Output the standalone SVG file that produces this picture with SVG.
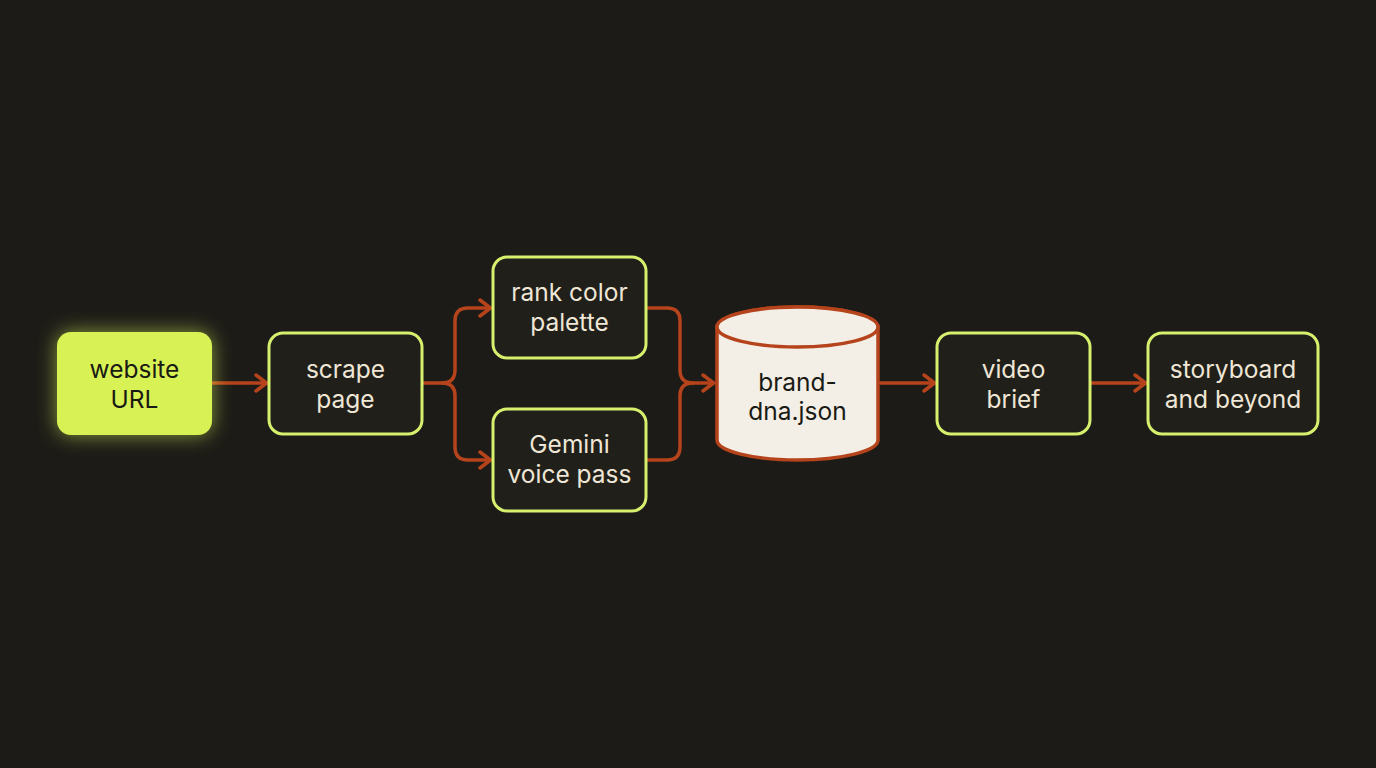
<svg xmlns="http://www.w3.org/2000/svg" width="1376" height="768" viewBox="0 0 1376 768">
<defs>
<style>
.box{fill:#201f1a;stroke:#d6f06e;stroke-width:3}
.t{font-family:Inter,"Liberation Sans",sans-serif;font-size:24.5px;fill:#efe6d6;text-anchor:middle}
.td{fill:#1a1a14}
.c{fill:none;stroke:#b5431b;stroke-width:3.5;stroke-linecap:round;stroke-linejoin:round}
</style>
<marker id="ah" viewBox="0 0 14 20" refX="13" refY="10" markerWidth="14" markerHeight="20" markerUnits="userSpaceOnUse" orient="auto">
<path d="M2,2 L12.5,10 L2,18" fill="none" stroke="#b5431b" stroke-width="3.5" stroke-linecap="round" stroke-linejoin="round"/>
</marker>
<filter id="glow" x="-40%" y="-40%" width="180%" height="180%">
<feGaussianBlur stdDeviation="10"/>
</filter>
</defs>
<rect width="1376" height="768" fill="#1c1b17"/>
<g id="connectors">
<path class="c" d="M213,383 L267,383" marker-end="url(#ah)"/>
<path class="c" d="M423,383 L442,383 Q455,383 455,370 L455,321 Q455,308 468,308 L491,308" marker-end="url(#ah)"/>
<path class="c" d="M442,383 Q455,383 455,396 L455,447 Q455,460 468,460 L491,460" marker-end="url(#ah)"/>
<path class="c" d="M647,308 L667,308 Q680,308 680,321 L680,370 Q680,383 693,383 L714,383" marker-end="url(#ah)"/>
<path class="c" d="M647,460 L667,460 Q680,460 680,447 L680,396 Q680,383 693,383"/>
<path class="c" d="M880,383 L935,383" marker-end="url(#ah)"/>
<path class="c" d="M1091,383 L1146,383" marker-end="url(#ah)"/>
</g>
<g id="website-url">
<rect x="57" y="332" width="155" height="103" rx="14" fill="#d8f255" opacity="0.6" filter="url(#glow)"/>
<rect x="57" y="332" width="155" height="103" rx="14" fill="#d8f255"/>
<text class="t td" x="134.5" y="378">website</text>
<text class="t td" x="134.5" y="408">URL</text>
</g>
<g id="scrape-page">
<rect class="box" x="269" y="333" width="153" height="101" rx="14"/>
<text class="t" x="345.5" y="378">scrape</text>
<text class="t" x="345.5" y="408">page</text>
</g>
<g id="rank-color-palette">
<rect class="box" x="493" y="257" width="153" height="101" rx="14"/>
<text class="t" x="569.5" y="301">rank color</text>
<text class="t" x="569.5" y="331">palette</text>
</g>
<g id="gemini-voice-pass">
<rect class="box" x="493" y="409" width="153" height="102" rx="14"/>
<text class="t" x="569.5" y="453">Gemini</text>
<text class="t" x="569.5" y="483">voice pass</text>
</g>
<g id="brand-dna">
<path d="M717,327 L717,440 A80.5,20 0 0 0 878,440 L878,327 A80.5,20 0 0 0 717,327 Z" fill="#f3eee6" stroke="#b5431b" stroke-width="3.5"/>
<ellipse cx="797.5" cy="327" rx="80.5" ry="20" fill="#f3eee6" stroke="#b5431b" stroke-width="3.5"/>
<text class="t td" x="797.5" y="391">brand-</text>
<text class="t td" x="797.5" y="420">dna.json</text>
</g>
<g id="video-brief">
<rect class="box" x="937" y="333" width="153" height="101" rx="14"/>
<text class="t" x="1013.5" y="378">video</text>
<text class="t" x="1013.5" y="408">brief</text>
</g>
<g id="storyboard">
<rect class="box" x="1148" y="333" width="170" height="101" rx="14"/>
<text class="t" x="1233" y="378">storyboard</text>
<text class="t" x="1233" y="408">and beyond</text>
</g>
</svg>
